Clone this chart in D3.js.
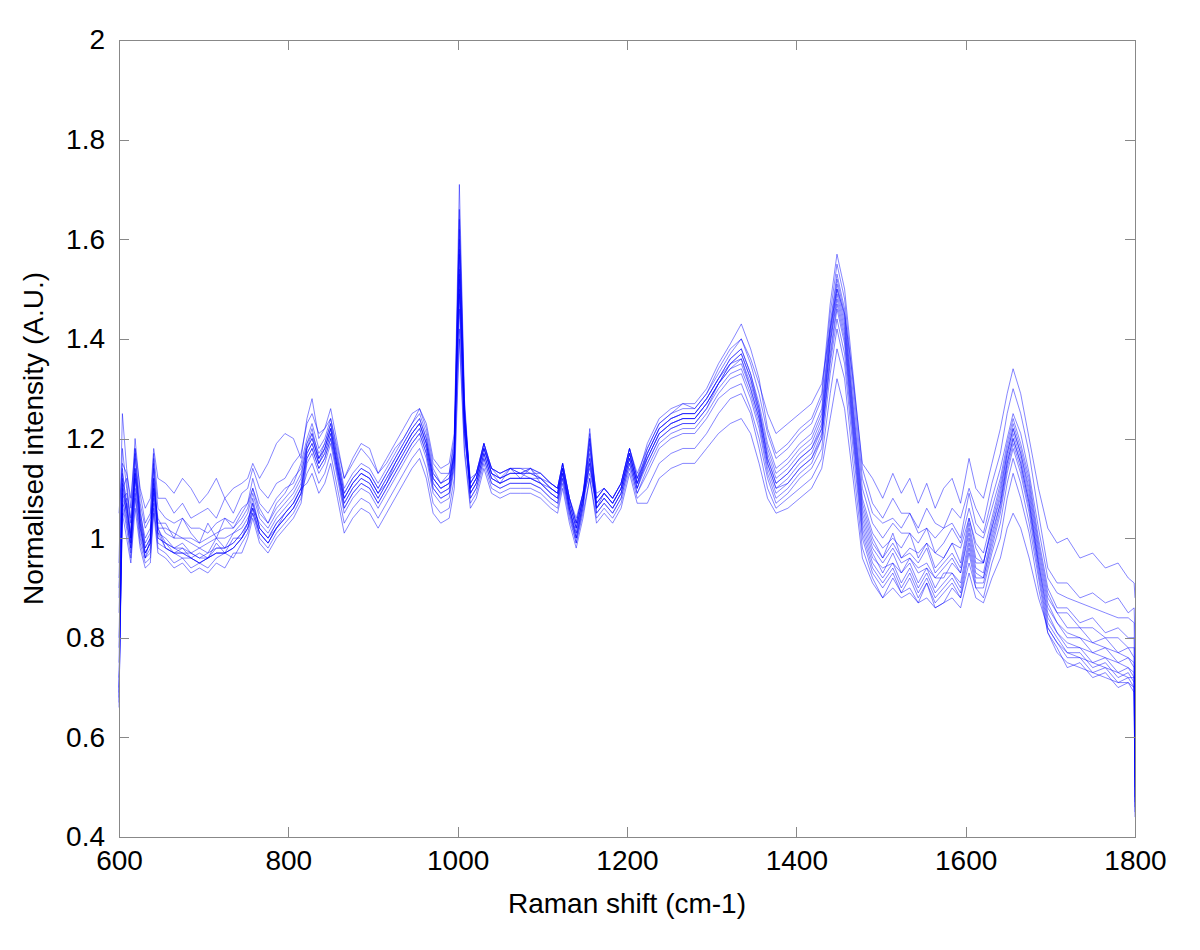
<!DOCTYPE html>
<meta charset="utf-8">
<title>Normalised Raman spectra</title>
<style>

body {
  margin: 0;
  background: #fff;
}

.axis text {
  font: 28px "Liberation Sans", Arial, sans-serif;
  fill: #000;
}

.axis path,
.axis line {
  fill: none;
  stroke: #888;
  shape-rendering: crispEdges;
}

.axislabel {
  font: 28px "Liberation Sans", Arial, sans-serif;
  fill: #000;
}

.spectrum {
  fill: none;
  stroke: #0000ff;
  stroke-width: 0.6px;
  stroke-opacity: 0.8;
}

</style>
<svg class="chart"></svg>

<script src="https://d3js.org/d3.v7.min.js"></script>
<script>

// wavenumber grid (cm-1) shared by all spectra
var shifts = [
  600, 604, 609, 614, 619, 625, 631, 637, 641, 646,
  655, 665, 675, 685, 695, 705, 715, 725, 735, 745,
  752, 758, 766, 776, 786, 796, 806, 815,
  822, 828, 836, 843, 850, 858, 866, 876, 886, 896,
  906, 916, 926, 936, 946, 955, 963, 971, 980, 990, 996,
  1002, 1008,
  1015, 1022, 1031, 1040, 1050, 1062, 1074, 1086, 1098, 1110,
  1118, 1124, 1132, 1140, 1148, 1156, 1164, 1173, 1183, 1193, 1203, 1212,
  1224, 1238, 1252, 1266, 1280, 1294, 1308, 1322,
  1335, 1346, 1356, 1366, 1376, 1390, 1404, 1418, 1430, 1440, 1448, 1457, 1467, 1478,
  1490, 1502, 1514, 1524, 1534, 1544, 1554, 1564, 1574, 1584, 1594, 1604, 1612, 1621,
  1631, 1641, 1649, 1656, 1665, 1675, 1686,
  1697, 1708, 1720, 1735, 1750, 1765, 1780, 1792, 1799,
  1800
];

var s1 = [1.05,
  1.15, 1.13, 1.08, 1.18, 1.10, 1.06, 1.08, 1.18, 1.12,
  1.11, 1.09, 1.12, 1.10, 1.07, 1.09, 1.12, 1.08, 1.10, 1.11,
  1.12, 1.15, 1.12, 1.15, 1.19, 1.21, 1.20, 1.16,
  1.24, 1.28, 1.20, 1.22, 1.24, 1.18, 1.12, 1.16, 1.19, 1.18,
  1.13, 1.15, 1.18, 1.20, 1.23, 1.26, 1.22, 1.15, 1.13, 1.13, 1.19,
  1.52, 1.24,
  1.12, 1.13, 1.19, 1.14, 1.13, 1.14, 1.13, 1.14, 1.12, 1.11,
  1.10, 1.15, 1.08, 1.04, 1.09, 1.18, 1.09, 1.10, 1.08, 1.11, 1.18, 1.13,
  1.18, 1.23, 1.25, 1.27, 1.26, 1.29, 1.34, 1.38,
  1.40, 1.36, 1.31, 1.25, 1.21, 1.23, 1.25, 1.27, 1.31, 1.42, 1.50, 1.45, 1.32, 1.15,
  1.12, 1.08, 1.13, 1.09, 1.12, 1.07, 1.11, 1.06, 1.10, 1.12, 1.07, 1.16, 1.10, 1.08,
  1.15, 1.22, 1.29, 1.34, 1.29, 1.20, 1.10,
  1.02, 0.99, 1.00, 0.96, 0.97, 0.94, 0.95, 0.92, 0.91,
  0.88];

var s2 = [0.95,
  1.25, 1.14, 1.06, 1.20, 1.09, 1.03, 1.05, 1.17, 1.08,
  1.08, 1.05, 1.07, 1.04, 1.05, 1.06, 1.04, 1.08, 1.05, 1.09,
  1.10, 1.14, 1.10, 1.08, 1.11, 1.12, 1.15, 1.17,
  1.23, 1.25, 1.21, 1.22, 1.26, 1.19, 1.12, 1.15, 1.18, 1.16,
  1.13, 1.16, 1.19, 1.22, 1.25, 1.26, 1.23, 1.16, 1.14, 1.15, 1.21,
  1.62, 1.26,
  1.11, 1.13, 1.19, 1.14, 1.12, 1.14, 1.14, 1.13, 1.13, 1.11,
  1.10, 1.15, 1.08, 1.03, 1.09, 1.20, 1.08, 1.10, 1.08, 1.11, 1.18, 1.12,
  1.19, 1.24, 1.26, 1.27, 1.27, 1.30, 1.35, 1.39,
  1.43, 1.38, 1.32, 1.22, 1.17, 1.19, 1.22, 1.24, 1.29, 1.47, 1.57, 1.50, 1.33, 1.14,
  1.07, 1.04, 1.08, 1.05, 1.05, 1.02, 1.06, 1.03, 1.02, 1.06, 1.04, 1.10, 1.06, 1.03,
  1.11, 1.17, 1.25, 1.30, 1.25, 1.17, 1.05,
  0.94, 0.91, 0.91, 0.88, 0.89, 0.87, 0.88, 0.85, 0.86,
  0.80];

var s3 = [0.92,
  1.18, 1.10, 1.04, 1.17, 1.07, 1.02, 1.04, 1.15, 1.06,
  1.04, 1.03, 1.04, 1.02, 1.02, 1.01, 1.03, 1.04, 1.03, 1.06,
  1.07, 1.12, 1.07, 1.05, 1.08, 1.10, 1.11, 1.15,
  1.20, 1.23, 1.18, 1.20, 1.24, 1.17, 1.10, 1.13, 1.15, 1.14,
  1.11, 1.14, 1.17, 1.20, 1.23, 1.25, 1.21, 1.14, 1.11, 1.13, 1.20,
  1.71, 1.28,
  1.10, 1.12, 1.19, 1.13, 1.11, 1.14, 1.12, 1.14, 1.11, 1.10,
  1.09, 1.14, 1.06, 1.01, 1.08, 1.22, 1.07, 1.09, 1.07, 1.10, 1.17, 1.11,
  1.18, 1.23, 1.25, 1.26, 1.26, 1.29, 1.33, 1.37,
  1.40, 1.35, 1.29, 1.21, 1.16, 1.18, 1.21, 1.23, 1.28, 1.45, 1.55, 1.48, 1.31, 1.12,
  1.05, 1.03, 1.04, 1.02, 1.05, 1.01, 1.02, 1.00, 1.02, 1.03, 1.00, 1.09, 1.03, 1.01,
  1.08, 1.14, 1.20, 1.25, 1.21, 1.13, 1.02,
  0.92, 0.89, 0.88, 0.87, 0.86, 0.85, 0.84, 0.84, 0.83,
  0.70];

var s4 = [0.90,
  1.10, 1.12, 1.01, 1.14, 1.06, 0.98, 1.00, 1.12, 1.03,
  1.03, 1.00, 1.04, 1.01, 0.99, 1.03, 1.00, 1.04, 1.02, 1.05,
  1.07, 1.10, 1.06, 1.03, 1.07, 1.09, 1.12, 1.14,
  1.19, 1.22, 1.16, 1.19, 1.23, 1.16, 1.09, 1.12, 1.14, 1.13,
  1.10, 1.13, 1.16, 1.19, 1.22, 1.24, 1.20, 1.13, 1.11, 1.12, 1.18,
  1.58, 1.24,
  1.11, 1.13, 1.18, 1.14, 1.13, 1.14, 1.13, 1.14, 1.13, 1.11,
  1.10, 1.15, 1.08, 1.03, 1.09, 1.16, 1.08, 1.10, 1.08, 1.11, 1.18, 1.12,
  1.17, 1.22, 1.24, 1.25, 1.25, 1.28, 1.32, 1.36,
  1.38, 1.33, 1.27, 1.19, 1.14, 1.16, 1.19, 1.21, 1.26, 1.43, 1.53, 1.46, 1.29, 1.10,
  1.03, 1.00, 1.03, 1.01, 1.01, 0.99, 1.02, 0.97, 0.99, 1.02, 0.99, 1.06, 1.01, 1.00,
  1.06, 1.12, 1.19, 1.24, 1.19, 1.12, 1.00,
  0.90, 0.86, 0.86, 0.83, 0.84, 0.81, 0.82, 0.80, 0.80,
  0.65];

var s5 = [0.88,
  1.14, 1.06, 1.00, 1.16, 1.04, 0.99, 1.01, 1.14, 1.02,
  1.02, 1.01, 1.00, 1.00, 0.99, 1.00, 1.01, 1.02, 1.02, 1.04,
  1.06, 1.10, 1.05, 1.03, 1.06, 1.08, 1.10, 1.13,
  1.18, 1.21, 1.15, 1.18, 1.22, 1.14, 1.08, 1.11, 1.13, 1.12,
  1.09, 1.11, 1.15, 1.18, 1.21, 1.23, 1.19, 1.12, 1.10, 1.11, 1.17,
  1.66, 1.27,
  1.09, 1.11, 1.17, 1.12, 1.11, 1.12, 1.12, 1.12, 1.11, 1.09,
  1.08, 1.13, 1.06, 1.00, 1.07, 1.19, 1.06, 1.08, 1.06, 1.09, 1.16, 1.10,
  1.17, 1.22, 1.24, 1.25, 1.25, 1.28, 1.32, 1.35,
  1.37, 1.32, 1.26, 1.18, 1.13, 1.15, 1.18, 1.20, 1.25, 1.42, 1.52, 1.45, 1.27, 1.08,
  1.01, 0.98, 1.00, 0.98, 1.01, 0.96, 0.99, 0.97, 0.96, 0.99, 0.98, 1.04, 0.99, 0.97,
  1.04, 1.11, 1.18, 1.23, 1.18, 1.11, 0.99,
  0.89, 0.85, 0.85, 0.82, 0.82, 0.80, 0.80, 0.78, 0.78,
  0.62];

var s6 = [0.85,
  1.08, 1.09, 1.03, 1.13, 1.05, 1.00, 1.02, 1.10, 1.04,
  1.01, 1.00, 1.00, 0.99, 0.98, 0.99, 1.00, 1.00, 1.01, 1.03,
  1.05, 1.09, 1.04, 1.02, 1.05, 1.07, 1.09, 1.12,
  1.19, 1.21, 1.17, 1.19, 1.23, 1.16, 1.09, 1.12, 1.14, 1.13,
  1.10, 1.13, 1.16, 1.19, 1.22, 1.24, 1.20, 1.13, 1.11, 1.12, 1.17,
  1.50, 1.22,
  1.10, 1.12, 1.18, 1.13, 1.12, 1.13, 1.13, 1.13, 1.12, 1.10,
  1.09, 1.14, 1.07, 1.02, 1.08, 1.15, 1.07, 1.09, 1.07, 1.10, 1.17, 1.11,
  1.16, 1.21, 1.23, 1.24, 1.24, 1.27, 1.31, 1.35,
  1.36, 1.31, 1.25, 1.17, 1.12, 1.14, 1.17, 1.19, 1.24, 1.41, 1.51, 1.44, 1.26, 1.07,
  1.00, 0.96, 1.01, 0.96, 0.98, 0.97, 0.99, 0.94, 0.96, 0.99, 0.95, 1.04, 0.98, 0.95,
  1.03, 1.10, 1.17, 1.22, 1.17, 1.10, 0.98,
  0.88, 0.85, 0.82, 0.82, 0.79, 0.80, 0.77, 0.78, 0.76,
  0.60];

var s7 = [0.80,
  1.12, 1.04, 0.98, 1.12, 1.02, 0.97, 0.99, 1.16, 1.00,
  0.99, 0.97, 0.98, 0.96, 0.97, 0.96, 0.99, 0.97, 1.00, 1.00,
  1.03, 1.07, 1.02, 1.00, 1.03, 1.05, 1.07, 1.10,
  1.17, 1.19, 1.15, 1.17, 1.21, 1.14, 1.07, 1.10, 1.12, 1.11,
  1.08, 1.11, 1.14, 1.17, 1.20, 1.22, 1.18, 1.11, 1.09, 1.10, 1.16,
  1.64, 1.26,
  1.10, 1.12, 1.18, 1.13, 1.12, 1.13, 1.13, 1.12, 1.12, 1.10,
  1.09, 1.14, 1.07, 1.02, 1.08, 1.21, 1.06, 1.09, 1.07, 1.10, 1.17, 1.11,
  1.17, 1.22, 1.24, 1.25, 1.25, 1.28, 1.32, 1.36,
  1.38, 1.33, 1.26, 1.16, 1.11, 1.13, 1.16, 1.18, 1.23, 1.40, 1.50, 1.43, 1.25, 1.06,
  0.99, 0.96, 0.99, 0.96, 0.97, 0.95, 0.98, 0.93, 0.95, 0.97, 0.94, 1.03, 0.96, 0.95,
  1.02, 1.09, 1.17, 1.22, 1.17, 1.09, 0.97,
  0.87, 0.83, 0.81, 0.80, 0.79, 0.78, 0.77, 0.76, 0.75,
  0.58];

var s8 = [0.78,
  1.06, 1.08, 1.00, 1.18, 1.03, 0.96, 1.00, 1.08, 1.01,
  1.00, 0.98, 0.99, 0.97, 0.98, 0.97, 1.00, 0.98, 1.01, 1.02,
  1.04, 1.06, 1.03, 1.01, 1.04, 1.06, 1.08, 1.11,
  1.18, 1.20, 1.16, 1.18, 1.22, 1.15, 1.08, 1.11, 1.13, 1.12,
  1.09, 1.12, 1.15, 1.18, 1.21, 1.23, 1.19, 1.12, 1.10, 1.11, 1.17,
  1.54, 1.23,
  1.11, 1.13, 1.19, 1.14, 1.13, 1.14, 1.14, 1.14, 1.13, 1.11,
  1.10, 1.15, 1.08, 1.03, 1.09, 1.14, 1.08, 1.10, 1.08, 1.11, 1.18, 1.12,
  1.16, 1.21, 1.23, 1.24, 1.24, 1.27, 1.31, 1.34,
  1.35, 1.30, 1.24, 1.15, 1.10, 1.12, 1.15, 1.17, 1.22, 1.39, 1.49, 1.42, 1.24, 1.05,
  0.98, 0.95, 0.98, 0.95, 0.96, 0.94, 0.95, 0.92, 0.94, 0.96, 0.93, 1.02, 0.95, 0.95,
  1.02, 1.08, 1.16, 1.21, 1.16, 1.08, 0.96,
  0.86, 0.83, 0.80, 0.80, 0.77, 0.78, 0.75, 0.76, 0.74,
  0.55];

var s9 = [0.75,
  1.10, 1.05, 0.97, 1.10, 1.01, 0.96, 0.98, 1.12, 1.00,
  0.99, 0.98, 0.97, 0.97, 0.96, 0.96, 0.98, 0.98, 0.99, 1.01,
  1.03, 1.08, 1.02, 1.00, 1.02, 1.05, 1.07, 1.10,
  1.17, 1.19, 1.15, 1.17, 1.21, 1.14, 1.07, 1.10, 1.12, 1.11,
  1.08, 1.11, 1.14, 1.17, 1.20, 1.22, 1.18, 1.11, 1.09, 1.10, 1.16,
  1.60, 1.25,
  1.09, 1.11, 1.17, 1.12, 1.11, 1.12, 1.12, 1.12, 1.11, 1.09,
  1.08, 1.13, 1.06, 1.00, 1.07, 1.17, 1.06, 1.08, 1.06, 1.09, 1.16, 1.10,
  1.16, 1.21, 1.23, 1.24, 1.24, 1.27, 1.31, 1.35,
  1.37, 1.32, 1.25, 1.16, 1.11, 1.13, 1.16, 1.18, 1.22, 1.39, 1.48, 1.41, 1.23, 1.04,
  0.97, 0.93, 0.97, 0.93, 0.96, 0.93, 0.94, 0.92, 0.92, 0.95, 0.93, 1.01, 0.94, 0.93,
  1.01, 1.07, 1.15, 1.20, 1.15, 1.07, 0.95,
  0.85, 0.81, 0.79, 0.78, 0.77, 0.76, 0.75, 0.74, 0.73,
  0.52];

var s10 = [0.72,
  1.04, 1.07, 0.99, 1.14, 1.04, 0.97, 0.99, 1.10, 1.02,
  0.98, 0.97, 0.96, 0.96, 0.95, 0.96, 0.97, 0.97, 0.98, 1.00,
  1.02, 1.05, 1.01, 0.99, 1.02, 1.04, 1.06, 1.09,
  1.18, 1.20, 1.16, 1.18, 1.22, 1.15, 1.08, 1.11, 1.13, 1.12,
  1.09, 1.12, 1.15, 1.18, 1.21, 1.23, 1.19, 1.12, 1.10, 1.11, 1.17,
  1.46, 1.21,
  1.10, 1.12, 1.18, 1.13, 1.12, 1.13, 1.13, 1.13, 1.12, 1.10,
  1.09, 1.14, 1.07, 1.02, 1.08, 1.13, 1.07, 1.09, 1.07, 1.10, 1.17, 1.11,
  1.15, 1.20, 1.22, 1.23, 1.23, 1.26, 1.30, 1.33,
  1.34, 1.29, 1.23, 1.14, 1.09, 1.11, 1.14, 1.16, 1.21, 1.37, 1.47, 1.40, 1.22, 1.03,
  0.96, 0.94, 0.95, 0.93, 0.95, 0.91, 0.94, 0.90, 0.93, 0.93, 0.91, 1.00, 0.93, 0.92,
  1.00, 1.07, 1.15, 1.20, 1.15, 1.07, 0.95,
  0.84, 0.81, 0.78, 0.78, 0.75, 0.76, 0.73, 0.74, 0.72,
  0.50];

var s11 = [0.70,
  1.09, 1.03, 0.98, 1.09, 1.00, 0.96, 0.97, 1.06, 0.99,
  0.98, 0.97, 0.97, 0.96, 0.95, 0.96, 0.97, 0.97, 0.98, 1.00,
  1.02, 1.06, 1.01, 0.99, 1.02, 1.04, 1.06, 1.09,
  1.16, 1.18, 1.14, 1.16, 1.20, 1.13, 1.06, 1.09, 1.11, 1.10,
  1.07, 1.10, 1.13, 1.16, 1.19, 1.21, 1.17, 1.10, 1.08, 1.09, 1.15,
  1.57, 1.24,
  1.08, 1.10, 1.16, 1.11, 1.10, 1.11, 1.11, 1.11, 1.10, 1.08,
  1.07, 1.12, 1.05, 1.00, 1.06, 1.20, 1.05, 1.07, 1.05, 1.08, 1.15, 1.09,
  1.14, 1.19, 1.21, 1.22, 1.22, 1.25, 1.29, 1.32,
  1.33, 1.28, 1.22, 1.13, 1.08, 1.10, 1.13, 1.15, 1.20, 1.36, 1.46, 1.39, 1.21, 1.02,
  0.95, 0.92, 0.95, 0.91, 0.94, 0.90, 0.93, 0.89, 0.91, 0.93, 0.90, 0.99, 0.92, 0.92,
  0.99, 1.06, 1.14, 1.19, 1.14, 1.06, 0.94,
  0.83, 0.80, 0.77, 0.77, 0.74, 0.75, 0.72, 0.73, 0.71,
  0.48];

var s12 = [0.69,
  1.07, 1.02, 0.96, 1.08, 0.99, 0.95, 0.96, 1.07, 0.98,
  0.97, 0.95, 0.96, 0.94, 0.95, 0.94, 0.96, 0.97, 0.96, 0.99,
  1.01, 1.05, 1.00, 0.98, 1.01, 1.03, 1.05, 1.08,
  1.16, 1.18, 1.14, 1.16, 1.20, 1.13, 1.06, 1.09, 1.11, 1.10,
  1.07, 1.10, 1.13, 1.16, 1.19, 1.21, 1.17, 1.10, 1.08, 1.09, 1.15,
  1.49, 1.21,
  1.09, 1.11, 1.17, 1.12, 1.11, 1.12, 1.12, 1.12, 1.11, 1.09,
  1.08, 1.13, 1.06, 1.01, 1.07, 1.16, 1.06, 1.08, 1.06, 1.09, 1.16, 1.10,
  1.15, 1.20, 1.22, 1.23, 1.23, 1.26, 1.31, 1.34,
  1.36, 1.30, 1.24, 1.15, 1.10, 1.11, 1.14, 1.16, 1.20, 1.35, 1.44, 1.37, 1.20, 1.01,
  0.94, 0.91, 0.94, 0.90, 0.93, 0.89, 0.92, 0.88, 0.90, 0.92, 0.89, 0.98, 0.91, 0.91,
  0.98, 1.05, 1.13, 1.18, 1.13, 1.05, 0.93,
  0.82, 0.79, 0.76, 0.76, 0.73, 0.74, 0.71, 0.72, 0.70,
  0.47];

var s13 = [0.68,
  1.05, 1.00, 0.95, 1.06, 0.98, 0.94, 0.95, 1.05, 0.97,
  0.96, 0.94, 0.95, 0.93, 0.94, 0.93, 0.95, 0.94, 0.97, 0.97,
  1.00, 1.04, 0.99, 0.97, 1.00, 1.02, 1.04, 1.07,
  1.15, 1.17, 1.13, 1.15, 1.19, 1.12, 1.05, 1.08, 1.10, 1.09,
  1.06, 1.09, 1.12, 1.15, 1.18, 1.20, 1.16, 1.09, 1.07, 1.08, 1.14,
  1.53, 1.22,
  1.08, 1.10, 1.16, 1.11, 1.10, 1.11, 1.11, 1.11, 1.10, 1.08,
  1.07, 1.12, 1.05, 0.99, 1.06, 1.15, 1.05, 1.07, 1.05, 1.08, 1.15, 1.09,
  1.13, 1.18, 1.20, 1.21, 1.21, 1.24, 1.28, 1.30,
  1.31, 1.26, 1.20, 1.12, 1.07, 1.09, 1.12, 1.14, 1.18, 1.33, 1.42, 1.35, 1.18, 1.00,
  0.93, 0.90, 0.93, 0.89, 0.92, 0.88, 0.91, 0.87, 0.89, 0.91, 0.88, 0.97, 0.90, 0.90,
  0.97, 1.03, 1.11, 1.16, 1.11, 1.03, 0.92,
  0.81, 0.77, 0.75, 0.74, 0.73, 0.72, 0.71, 0.71, 0.70,
  0.46];

var s14 = [0.67,
  1.11, 1.06, 0.99, 1.12, 1.02, 0.97, 0.99, 1.09, 1.01,
  0.98, 0.97, 0.97, 0.96, 0.95, 0.96, 0.97, 0.97, 0.98, 1.00,
  1.02, 1.06, 1.01, 0.99, 1.02, 1.04, 1.06, 1.09,
  1.13, 1.15, 1.11, 1.13, 1.17, 1.10, 1.03, 1.06, 1.08, 1.07,
  1.04, 1.07, 1.10, 1.13, 1.16, 1.18, 1.14, 1.07, 1.05, 1.06, 1.12,
  1.42, 1.18,
  1.07, 1.09, 1.15, 1.10, 1.09, 1.10, 1.10, 1.10, 1.09, 1.07,
  1.06, 1.11, 1.04, 0.99, 1.05, 1.12, 1.04, 1.06, 1.04, 1.07, 1.14, 1.08,
  1.10, 1.15, 1.17, 1.18, 1.18, 1.21, 1.25, 1.28,
  1.29, 1.25, 1.18, 1.10, 1.06, 1.08, 1.10, 1.12, 1.16, 1.29, 1.38, 1.32, 1.15, 0.98,
  0.92, 0.88, 0.92, 0.89, 0.90, 0.87, 0.91, 0.86, 0.87, 0.90, 0.88, 0.95, 0.90, 0.88,
  0.95, 1.00, 1.08, 1.13, 1.08, 1.01, 0.90,
  0.81, 0.78, 0.74, 0.75, 0.72, 0.73, 0.70, 0.71, 0.69,
  0.45];

var s15 = [0.66,
  1.13, 1.07, 1.00, 1.13, 1.03, 0.98, 1.00, 1.11, 1.02,
  0.99, 0.98, 0.98, 0.97, 0.96, 0.97, 0.98, 0.98, 0.99, 1.01,
  1.03, 1.07, 1.02, 1.00, 1.03, 1.05, 1.07, 1.10,
  1.11, 1.13, 1.09, 1.11, 1.15, 1.08, 1.01, 1.04, 1.06, 1.05,
  1.02, 1.05, 1.08, 1.11, 1.14, 1.16, 1.12, 1.05, 1.03, 1.04, 1.10,
  1.40, 1.17,
  1.06, 1.08, 1.14, 1.09, 1.08, 1.09, 1.09, 1.09, 1.08, 1.06,
  1.05, 1.10, 1.03, 0.98, 1.04, 1.12, 1.03, 1.05, 1.03, 1.06, 1.13, 1.07,
  1.07, 1.12, 1.14, 1.15, 1.15, 1.18, 1.21, 1.23,
  1.24, 1.21, 1.15, 1.08, 1.05, 1.06, 1.08, 1.10, 1.14, 1.24, 1.32, 1.26, 1.12, 0.96,
  0.91, 0.88, 0.90, 0.88, 0.89, 0.87, 0.88, 0.86, 0.87, 0.88, 0.86, 0.93, 0.88, 0.87,
  0.92, 0.96, 1.02, 1.05, 1.02, 0.96, 0.88,
  0.82, 0.79, 0.77, 0.76, 0.75, 0.74, 0.73, 0.72, 0.72,
  0.44];

var spectra = [s1, s2, s3, s4, s5, s6, s7, s8, s9, s10, s11, s12, s13, s14, s15];

var xTicks = [600, 800, 1000, 1200, 1400, 1600, 1800];
var yTicks = [0.4, 0.6, 0.8, 1, 1.2, 1.4, 1.6, 1.8, 2];
var yTickLabels = ["0.4", "0.6", "0.8", "1", "1.2", "1.4", "1.6", "1.8", "2"];

var margin = {top: 40, right: 65, bottom: 113, left: 119},
    width = 1200 - margin.left - margin.right,
    height = 950 - margin.top - margin.bottom;

var x = d3.scaleLinear()
    .domain([600, 1800])
    .range([0, width]);

var y = d3.scaleLinear()
    .domain([0.4, 2])
    .range([height, 0]);

var chart = d3.select(".chart")
    .attr("width", width + margin.left + margin.right)
    .attr("height", height + margin.top + margin.bottom)
    .append("g")
    .attr("transform", "translate(" + margin.left + "," + margin.top + ")");

var line = d3.line()
    .x(function(d, i) { return x(shifts[i]); })
    .y(function(d) { return y(d); });

chart.selectAll(".spectrum")
    .data(spectra)
    .enter().append("path")
    .attr("class", "spectrum")
    .attr("d", line);

// matlab style box: ticks pointing inwards on all four sides
chart.append("g")
    .attr("class", "x axis")
    .attr("transform", "translate(0," + height + ")")
    .call(d3.axisBottom(x)
        .tickValues(xTicks)
        .tickFormat(d3.format("d"))
        .tickSizeInner(-10)
        .tickSizeOuter(0)
        .tickPadding(13));

chart.append("g")
    .attr("class", "x axis")
    .call(d3.axisTop(x)
        .tickValues(xTicks)
        .tickFormat("")
        .tickSizeInner(-10)
        .tickSizeOuter(0));

chart.append("g")
    .attr("class", "y axis")
    .call(d3.axisLeft(y)
        .tickValues(yTicks)
        .tickFormat(function(d, i) { return yTickLabels[i]; })
        .tickSizeInner(-10)
        .tickSizeOuter(0)
        .tickPadding(14));

chart.append("g")
    .attr("class", "y axis")
    .attr("transform", "translate(" + width + ",0)")
    .call(d3.axisRight(y)
        .tickValues(yTicks)
        .tickFormat("")
        .tickSizeInner(-10)
        .tickSizeOuter(0));

chart.selectAll(".axis .domain").style("stroke", "#888");

// axis titles
chart.append("text")
    .attr("class", "axislabel")
    .attr("x", width / 2)
    .attr("y", height + 76)
    .style("text-anchor", "middle")
    .text("Raman shift (cm-1)");

chart.append("text")
    .attr("class", "axislabel")
    .attr("transform", "rotate(-90)")
    .attr("x", -height / 2)
    .attr("y", -76)
    .style("text-anchor", "middle")
    .text("Normalised intensity (A.U.)");

</script>
